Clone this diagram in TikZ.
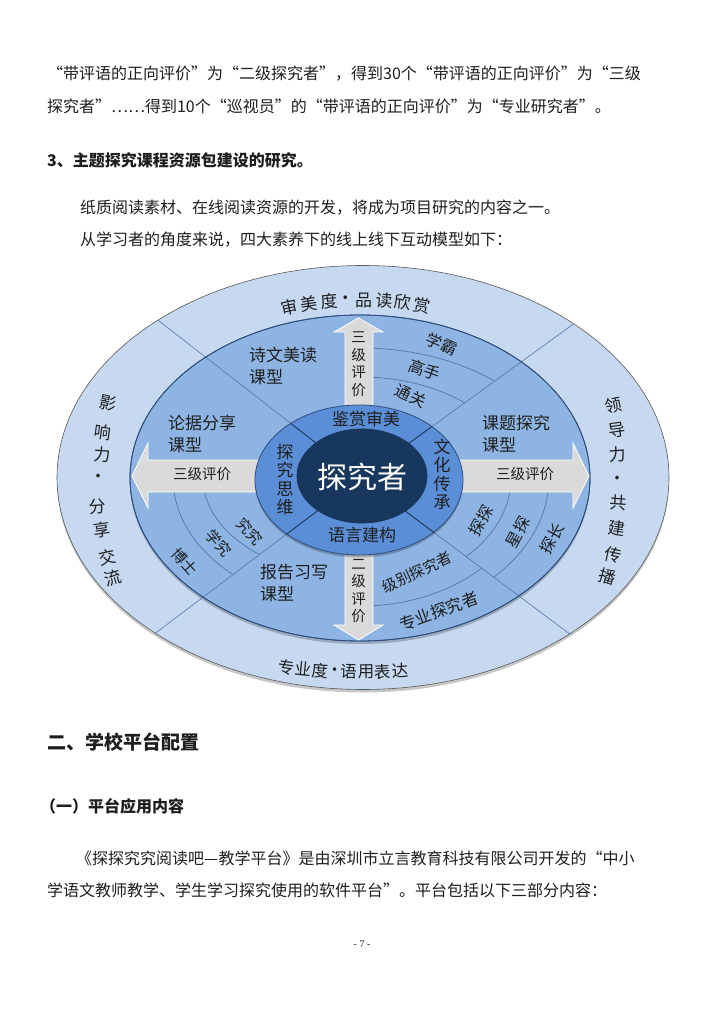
\documentclass[tikz,border=0pt]{standalone}
\usepackage{fontspec}
\setmainfont{Noto Sans CJK SC}
\newfontfamily\serifpg{Liberation Serif}
\XeTeXlinebreaklocale "zh"
\XeTeXlinebreakskip=0pt plus 6pt minus 0.5pt
\definecolor{outerc}{HTML}{C6D9F1}
\definecolor{midc}{HTML}{8DB4E2}
\definecolor{ringc}{HTML}{5A8ED6}
\definecolor{corec}{HTML}{17375E}
\definecolor{arrc}{HTML}{DADADA}
\definecolor{linec}{HTML}{5277AE}
\definecolor{darkline}{HTML}{1C3559}
\definecolor{edgec}{HTML}{2E4D7B}
\definecolor{txtc}{HTML}{1E1E1E}
\tikzset{
  bodytext/.style={anchor=west, inner sep=0pt, text=txtc, font=\fontsize{16}{18}\selectfont},
  headtext/.style={anchor=west, inner sep=0pt, text=txtc, font=\fontsize{16}{18}\selectfont\bfseries},
  lbl/.style={inner sep=0pt, text=txtc, font=\fontsize{17}{22}\selectfont, align=left},
  ringlbl/.style={inner sep=0pt, text=txtc, font=\fontsize{17}{18.3}\selectfont, align=center},
  outerlbl/.style={inner sep=0pt, text=txtc, font=\fontsize{17}{18}\selectfont},
  arrlbl/.style={inner sep=0pt, text=txtc, font=\fontsize{14.5}{17.5}\selectfont, align=center},
  arclbl/.style={inner sep=0pt, text=txtc, font=\fontsize{16}{18}\selectfont},
  arrowshape/.style={fill=arrc, draw=white, line width=0.8pt},
  divider/.style={draw=linec, line width=0.6pt},
  arcline/.style={draw=linec, line width=0.7pt},
  shadowfill/.style={fill=black, opacity=0.22},
}
\begin{document}
\begin{tikzpicture}[x=1pt,y=-1pt]
\path[fill=white] (0,0) rectangle (724,1024);
\useasboundingbox (0,0) rectangle (724,1024);

% ---------- body text ----------
\node[bodytext] (l1) at (47,74) {\makebox[608pt][s]{“带评语的正向评价”为“二级探究者”，得到30个“带评语的正向评价”为“三级}};
\node[bodytext] (l2) at (47,106) {\makebox[581pt][s]{探究者”……得到10个“巡视员”的“带评语的正向评价”为“专业研究者”。}};
\node[headtext] (l3) at (47,160) {\makebox[271pt][s]{3、主题探究课程资源包建设的研究。}};
\node[bodytext] (l4) at (80,208) {\makebox[510pt][s]{纸质阅读素材、在线阅读资源的开发，将成为项目研究的内容之一。}};
\node[bodytext] (l5) at (80,240) {\makebox[455pt][s]{从学习者的角度来说，四大素养下的线上线下互动模型如下：}};
\node[headtext, font=\fontsize{19}{21}\selectfont\bfseries] (l6) at (47,742) {\makebox[153pt][s]{二、学校平台配置}};
\node[headtext] (l7) at (40,806) {\makebox[160pt][s]{（一）平台应用内容}};
\node[bodytext] (l8) at (76,858) {\makebox[614pt][s]{《探探究究阅读吧—教学平台》是由深圳市立言教育科技有限公司开发的“中小}};
\node[bodytext] (l9) at (47,890) {\makebox[563pt][s]{学语文教师教学、学生学习探究使用的软件平台”。平台包括以下三部分内容：}};
\node[inner sep=0pt, text=txtc, font=\serifpg\fontsize{10}{12}\selectfont] (pg) at (362,944) {- 7 -};

% ---------- outer ellipse ----------
\fill[shadowfill] (363,480.5) ellipse [x radius=306, y radius=212];
\filldraw[fill=outerc, draw=gray!70!black, line width=0.6pt] (363,477.5) ellipse [x radius=306, y radius=212];

% ---------- medium ellipse ----------
\fill[shadowfill] (360,481) ellipse [x radius=230, y radius=163];
\filldraw[fill=midc, draw=edgec, line width=0.8pt] (360,478) ellipse [x radius=230, y radius=163];

% ---------- dividers ----------
\begin{scope}
\clip (363,477.5) ellipse [x radius=306, y radius=212];
\draw[divider] (361,478) -- ++(-261,-203);
\draw[divider] (361,478) -- ++(269,-195);
\draw[divider] (361,478) -- ++(-265,200);
\draw[divider] (361,478) -- ++(269,201);
\end{scope}
\draw[edgec, line width=0.8pt] (360,478) ellipse [x radius=230, y radius=163];

% ---------- arcs ----------
\draw[arcline] plot[domain=-88:-48.2, samples=40] ({361+200*cos(\x)},{478+130*sin(\x)});
\draw[arcline] plot[domain=-88:-48, samples=40] ({361+155*cos(\x)},{478+101*sin(\x)});
\draw[arcline] plot[domain=5:45.6, samples=40] ({361+150*cos(\x)},{478+110*sin(\x)});
\draw[arcline] plot[domain=5:45.2, samples=40] ({361+188*cos(\x)},{478+140*sin(\x)});
\draw[arcline] plot[domain=45:88, samples=40] ({361+170*cos(\x)},{478+128*sin(\x)});
\draw[arcline] plot[domain=133:175, samples=40] ({361+188*cos(\x)},{478+132*sin(\x)});
\draw[arcline] plot[domain=130:175, samples=40] ({361+158*cos(\x)},{478+100*sin(\x)});

% ---------- arrows ----------
\filldraw[arrowshape] (345,412) -- (345,332) -- (334,332) -- (358.5,318) -- (383,332) -- (373,332) -- (373,412) -- cycle;
\filldraw[arrowshape] (345,548) -- (345,625) -- (334,625) -- (358.5,640) -- (383,625) -- (373,625) -- (373,548) -- cycle;
\filldraw[arrowshape] (262,460) -- (148,460) -- (148,443) -- (132,476) -- (148,508) -- (148,492) -- (262,492) -- cycle;
\filldraw[arrowshape] (456,460) -- (573,460) -- (573,443) -- (589,476) -- (573,508) -- (573,492) -- (456,492) -- cycle;

% ---------- middle ring ----------
\fill[shadowfill] (359,482.5) ellipse [x radius=104, y radius=75];
\filldraw[fill=ringc, draw=edgec, line width=0.8pt] (359,480) ellipse [x radius=104, y radius=75];
\begin{scope}
\clip (359,480) ellipse [x radius=104, y radius=75];
\draw[darkline, line width=0.9pt] (361,478) -- ++(-261,-203);
\draw[darkline, line width=0.9pt] (361,478) -- ++(269,-195);
\draw[darkline, line width=0.9pt] (361,478) -- ++(-265,200);
\draw[darkline, line width=0.9pt] (361,478) -- ++(269,201);
\end{scope}

% ---------- core ----------
\filldraw[fill=corec, draw=darkline, line width=0.8pt] (362,476) ellipse [x radius=65, y radius=47];
\node[inner sep=0pt, text=white, font=\fontsize{30}{32}\selectfont] (core) at (362,477) {探究者};

% ---------- ring labels ----------
\node[ringlbl] (r1) at (366,419) {鉴赏审美};
\node[ringlbl] (r2) at (362,535) {语言建构};
\node[ringlbl] (r3) at (285,479.5) {探\\究\\思\\维};
\node[ringlbl] (r4) at (442,474.5) {文\\化\\传\\承};

% ---------- medium labels ----------
\node[lbl] (m1) at (283,366) {诗文美读\\课型};
\node[lbl] (m2) at (202,434) {论据分享\\课型};
\node[lbl] (m3) at (516,434) {课题探究\\课型};
\node[lbl] (m4) at (294,583) {报告习写\\课型};

% ---------- arrow labels ----------
\node[arrlbl] (a1) at (358.5,364) {三\\级\\评\\价};
\node[arrlbl] (a2) at (358.5,591) {二\\级\\评\\价};
\node[arrlbl] (a3) at (202,474) {三级评价};
\node[arrlbl] (a4) at (525,474) {三级评价};

% ---------- arc labels ----------
\node[arclbl, rotate=-24] (t1) at (442,344) {学霸};
\node[arclbl, rotate=-20] (t2) at (425,370) {高手};
\node[arclbl, rotate=-25] (t3) at (411,396) {通关};
\node[arclbl, rotate=61] (t4) at (481,521) {探探};
\node[arclbl, rotate=62] (t5) at (518,532) {星探};
\node[arclbl, rotate=61] (t6) at (552,539) {探长};
\node[arclbl, rotate=25, font=\fontsize{15}{17}\selectfont] (t7) at (417,572) {级别探究者};
\node[arclbl, rotate=20, font=\fontsize{16.5}{18}\selectfont] (t8) at (439,611) {专业探究者};
\node[arclbl, rotate=-48, font=\fontsize{15}{17}\selectfont] (t9) at (185,562) {博士};
\node[arclbl, rotate=-50, font=\fontsize{15}{17}\selectfont] (t10) at (219,543) {学究};
\node[arclbl, rotate=-47, font=\fontsize{15}{17}\selectfont] (t11) at (250,532) {究究};

% ---------- outer ring labels ----------
\foreach \ch/\ang [count=\i] in {审/-106.7,美/-102.0,度/-97.35,•/-93.44,品/-89.3,读/-84.7,欣/-80.3,赏/-75.9}{
  \pgfmathsetmacro\rot{atan2(-178*cos(\ang), -250*sin(\ang))}
  \node[outerlbl, rotate=\rot] (top\i) at ({361+250*cos(\ang)}, {478+178*sin(\ang)}) {\ch};
}
\foreach \ch/\ang [count=\i] in {专/103.1,业/100.1,度/97.1,•/94.5,语/92.1,用/89.1,表/86.2,达/83.2}{
  \pgfmathsetmacro\rot{atan2(194*cos(\ang), 330*sin(\ang))}
  \node[outerlbl, font=\fontsize{16.5}{18}\selectfont, rotate=\rot] (bot\i) at ({361+330*cos(\ang)}, {478+194*sin(\ang)}) {\ch};
}
\foreach \ch/\px/\py/\r [count=\i] in {影/108/403/-12,响/103/432/-8,力/102/455/-4,•/98/478/0,分/98/507/4,享/102/530/8,交/107/557/12,流/113/578/16}{
  \node[outerlbl, rotate=\r] (lft\i) at (\px,\py) {\ch};
}
\foreach \ch/\px/\py/\r [count=\i] in {领/613/405/12,导/617/430/8,力/618/455/4,•/617/480/0,共/618/503/-4,建/617/528/-8,传/613/555/-12,播/607/577/-16}{
  \node[outerlbl, rotate=\r] (rgt\i) at (\px,\py) {\ch};
}
\end{tikzpicture}
\end{document}
